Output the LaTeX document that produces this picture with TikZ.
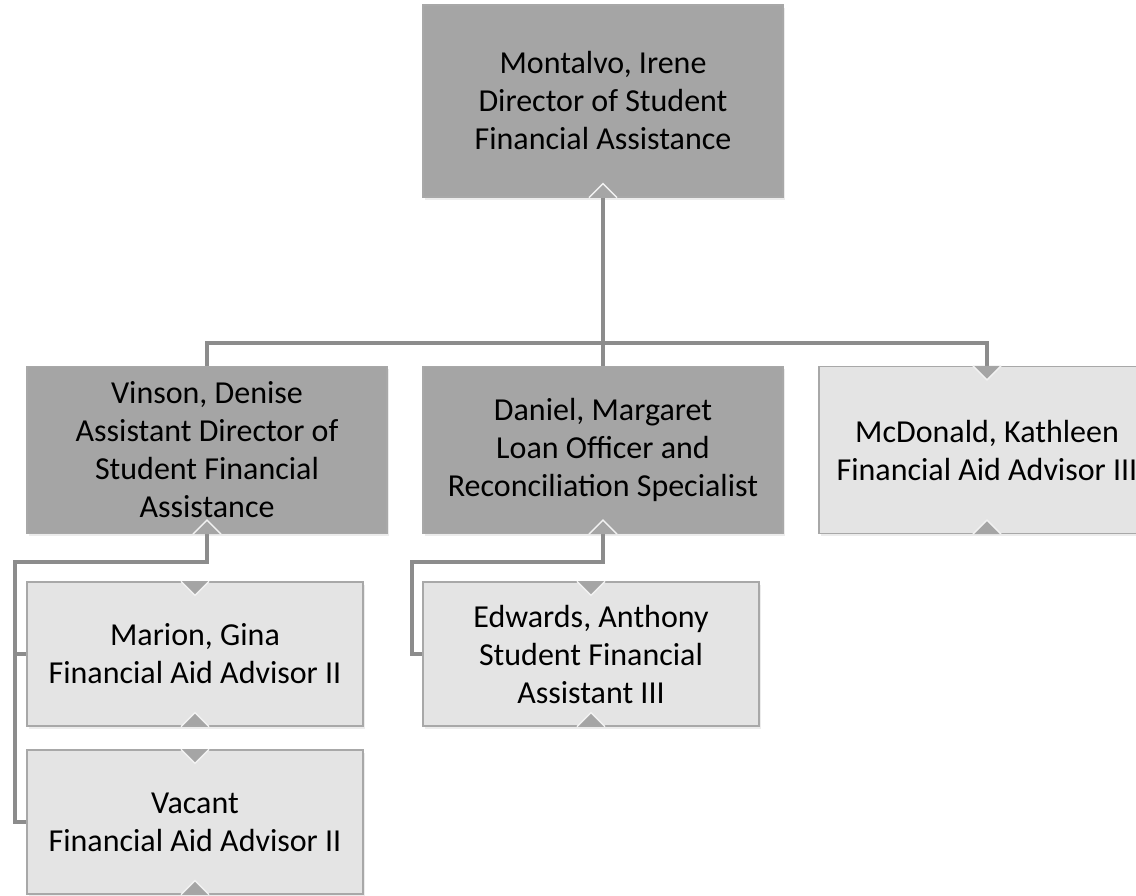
\documentclass[tikz,border=0pt]{standalone}
\usepackage{fontspec}
\setmainfont{Carlito}
\usetikzlibrary{shadows}
\definecolor{boxdark}{HTML}{A5A5A5}
\definecolor{boxlight}{HTML}{E4E4E4}
\definecolor{boxline}{HTML}{A8A8A8}
\definecolor{linkgray}{HTML}{8C8C8C}
\definecolor{notchline}{HTML}{F2F2F2}
\begin{document}
\begin{tikzpicture}[x=1pt, y=-1pt]
            \clip (0,0) rectangle (1136,895);
            \tikzstyle{every node}=[rectangle, align=center, text=black, inner sep=0pt, font=\fontsize{32}{38}\selectfont, drop shadow={opacity=0.15, shadow xshift=1.5pt, shadow yshift=-2.5pt}]
            \tikzstyle{head}=[fill=boxdark, draw=boxline, line width=1.2pt, minimum width=360pt]
            \tikzstyle{staff}=[fill=boxlight, draw=boxline, line width=1.2pt, minimum width=336pt, minimum height=144pt]
            \tikzstyle{conn}=[linkgray, line width=4pt]

            \node[head, minimum height=192pt] (montalvo) at (603,101) {Montalvo, Irene\\Director of Student\\Financial Assistance};
            \node[head, minimum height=167pt] (vinson) at (207,450) {Vinson, Denise\\Assistant Director of\\Student Financial\\Assistance};
            \node[head, minimum height=167pt] (daniel) at (603,450) {Daniel, Margaret\\Loan Officer and\\Reconciliation Specialist};
            \node[staff, minimum height=167pt] (mcdonald) at (987,450) {McDonald, Kathleen\\Financial Aid Advisor III};
            \node[staff] (marion) at (195,654) {Marion, Gina\\Financial Aid Advisor II};
            \node[staff] (vacant) at (195,822) {Vacant\\Financial Aid Advisor II};
            \node[staff] (edwards) at (591,654) {Edwards, Anthony\\Student Financial\\Assistant III};

            \coordinate (bus) at (603,343);
            \coordinate (vrail) at (15,562);
            \coordinate (drail) at (412,562);

            \draw[conn] (montalvo.south) -- (daniel.north);
            \draw[conn] (vinson.north) |- (bus) -| (mcdonald.north);
            \draw[conn] (vinson.south) |- (vrail) |- (marion.west);
            \draw[conn] (vrail) |- (vacant.west);
            \draw[conn] (daniel.south) |- (drail) |- (edwards.west);

            \tikzstyle{notch}=[fill=boxdark, draw=notchline, line width=1.5pt]
            \foreach \n in {mcdonald, marion, vacant, edwards}
                \draw[notch] (\n.north) ++(-14,0) -- ++(14,14) -- ++(14,-14);
            \foreach \n in {montalvo, vinson, daniel, mcdonald, marion, vacant, edwards}
                \draw[notch] (\n.south) ++(-14,0) -- ++(14,-14) -- ++(14,14);
        \end{tikzpicture}
\end{document}
